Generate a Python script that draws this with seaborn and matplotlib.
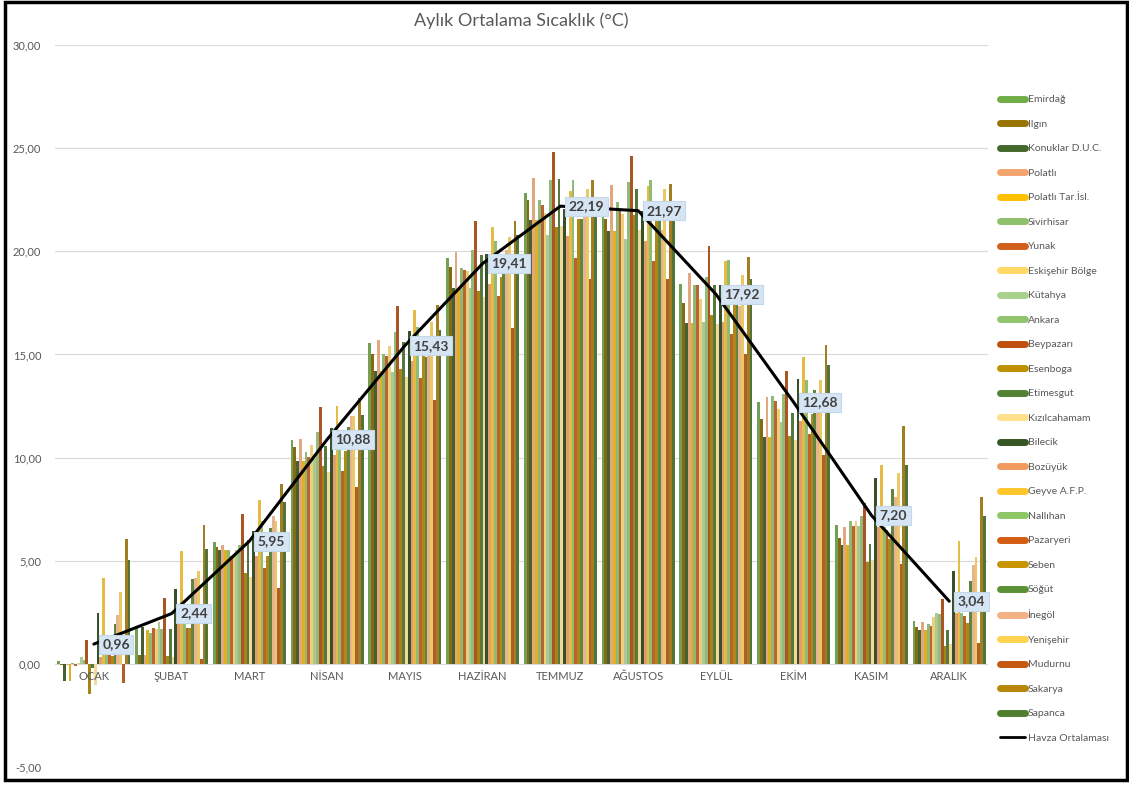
import numpy as np
import pandas as pd
import matplotlib
matplotlib.use("Agg")
import matplotlib.pyplot as plt
from matplotlib.lines import Line2D
from matplotlib.patches import Rectangle
from matplotlib.ticker import FuncFormatter
import seaborn as sns

# --- data ---
months = ["OCAK", "ŞUBAT", "MART", "NİSAN", "MAYIS", "HAZİRAN",
          "TEMMUZ", "AĞUSTOS", "EYLÜL", "EKİM", "KASIM", "ARALIK"]

stations = ["Emirdağ", "Ilgın", "Konuklar D.U.C.", "Polatlı", "Polatlı Tar.İsl.",
            "Sivirhisar", "Yunak", "Eskişehir Bölge", "Kütahya", "Ankara",
            "Beypazarı", "Esenboga", "Etimesgut", "Kızılcahamam", "Bilecik",
            "Bozüyük", "Geyve A.F.P.", "Nallıhan", "Pazaryeri", "Seben",
            "Söğüt", "İnegöl", "Yenişehir", "Mudurnu", "Sakarya", "Sapanca"]

station_colors = ["#70AD47", "#997300", "#43682B", "#F4A46E", "#FFC000",
                  "#8FC16B", "#D0601A", "#FFD966", "#A9D18E", "#92C46E",
                  "#C0500E", "#BF9000", "#548235", "#FFE08A", "#375623",
                  "#F19A5E", "#FFC72C", "#8DC766", "#D35E12", "#C89400",
                  "#5B9235", "#F4B183", "#FFD34F", "#C55A11", "#B8860B",
                  "#4F7F2E"]

# monthly values, one list per month (order = stations)
ocak = [0.15, -0.05, -0.85, -0.05, -0.85, 0.05, -0.10, 0.05, 0.35, 0.20, 1.15, -1.45, -0.20,
        -1.00, 2.45, 0.35, 4.15, 0.50, 0.45, 0.40, 1.95, 2.35, 3.50, -0.95, 6.05, 5.05]
subat = [1.85, 0.45, 1.80, 0.45, 1.65, 1.50, 1.75, 1.70, 2.05, 1.70, 3.20, 0.40, 1.70,
         0.35, 3.65, 1.95, 5.45, 2.25, 1.75, 1.75, 4.10, 4.15, 4.50, 0.25, 6.75, 5.55]
mart = [5.90, 5.65, 5.50, 5.75, 5.50, 5.50, 5.25, 5.20, 5.50, 5.78, 7.27, 4.40, 6.00,
        4.20, 6.45, 5.25, 7.95, 6.95, 4.65, 5.25, 6.60, 7.15, 6.95, 3.67, 8.70, 7.85]
nisan = [10.87, 10.53, 9.85, 10.90, 9.85, 10.26, 10.05, 10.63, 10.00, 11.26, 12.44, 9.58, 10.58,
         9.29, 11.42, 10.15, 12.52, 10.90, 9.37, 10.34, 11.50, 12.00, 12.00, 8.56, 12.88, 12.07]
mayis = [15.57, 15.03, 14.22, 15.68, 14.22, 15.03, 14.95, 15.40, 14.14, 16.08, 17.33, 14.30, 15.60,
         13.93, 16.13, 14.70, 17.14, 16.33, 13.87, 15.03, 14.90, 15.84, 16.57, 12.80, 17.41, 16.20]
haziran = [19.69, 19.24, 18.24, 19.97, 18.24, 19.20, 19.08, 19.05, 18.22, 20.08, 21.47, 18.07, 19.84,
           17.78, 19.89, 18.40, 21.18, 20.50, 17.83, 18.75, 18.88, 20.05, 20.70, 16.30, 21.47, 20.78]
temmuz = [22.83, 22.48, 21.54, 23.56, 21.54, 22.51, 22.27, 21.86, 20.78, 23.45, 24.80, 21.18, 23.50,
          21.21, 22.07, 20.73, 22.93, 23.45, 19.68, 21.59, 21.59, 21.67, 23.04, 18.67, 23.48, 21.67]
agustos = [21.67, 21.59, 20.99, 23.24, 20.99, 22.40, 22.07, 21.80, 20.61, 23.37, 24.64, 21.75, 23.00,
           21.05, 21.96, 20.50, 23.17, 23.48, 19.51, 21.50, 21.47, 21.02, 23.00, 18.67, 23.28, 21.50]
eylul = [18.40, 17.51, 16.52, 18.95, 16.52, 18.38, 18.35, 17.70, 16.57, 18.75, 20.28, 16.89, 18.35,
         16.49, 18.35, 16.57, 19.51, 19.56, 16.00, 17.43, 17.46, 17.33, 18.83, 15.03, 19.72, 18.67]
ekim = [12.72, 11.88, 11.02, 12.93, 11.02, 12.99, 12.73, 12.36, 11.72, 13.06, 14.22, 11.07, 12.15,
        10.83, 13.82, 11.76, 14.90, 13.74, 11.15, 12.09, 13.30, 12.20, 13.74, 10.15, 15.47, 14.47]
kasim = [6.73, 6.10, 5.78, 6.65, 5.78, 6.91, 6.70, 6.91, 6.70, 7.18, 7.78, 4.92, 5.81,
         5.03, 9.01, 6.62, 9.64, 6.62, 6.49, 6.05, 8.48, 8.07, 9.26, 4.84, 11.55, 9.64]
aralik = [2.09, 1.80, 1.63, 2.04, 1.63, 1.93, 1.84, 2.28, 2.49, 2.44, 3.14, 0.87, 1.65,
          0.95, 4.51, 2.49, 5.97, 2.49, 2.33, 1.97, 4.00, 4.79, 5.16, 1.00, 8.11, 7.15]

havza_ortalamasi = [0.96, 2.44, 5.95, 10.88, 15.43, 19.41, 22.19, 21.97, 17.92, 12.68, 7.20, 3.04]

monthly = [ocak, subat, mart, nisan, mayis, haziran, temmuz, agustos, eylul, ekim, kasim, aralik]
rows = []
for m, vals in zip(months, monthly):
    for s, v in zip(stations, vals):
        rows.append({"Ay": m, "İstasyon": s, "Sıcaklık": v})
df = pd.DataFrame(rows)

# --- style ---
sns.set_style("white")
plt.rcParams["font.family"] = ["Lato", "DejaVu Sans"]
grey = "#595959"

fig = plt.figure(figsize=(11.29, 7.85), dpi=100)
ax = fig.add_axes([0.0487, 0.0229, 0.8265, 0.9197])

sns.barplot(data=df, x="Ay", y="Sıcaklık", hue="İstasyon", order=months,
            hue_order=stations, palette=station_colors, width=0.94, gap=0,
            linewidth=0, legend=False, ax=ax)

x = np.arange(len(months))
ax.plot(x, havza_ortalamasi, color="black", lw=2.2, zorder=5)
for xi, v in zip(x, havza_ortalamasi):
    ax.annotate(f"{v:.2f}".replace(".", ","), (xi, v), xytext=(6, 0),
                textcoords="offset points", ha="left", va="center",
                fontsize=10, fontweight="bold", color="#404040", zorder=6,
                bbox=dict(boxstyle="square,pad=0.25", fc="#D6E5F4", ec="#C5D7EB", lw=0.8))

# axes formatting
ax.set_ylim(-5, 30)
ax.set_xlim(-0.5, len(months) - 0.5)
ax.set_yticks(np.arange(-5, 31, 5))
ax.yaxis.set_major_formatter(FuncFormatter(lambda v, p: f"{v:.2f}".replace(".", ",")))
ax.tick_params(axis="y", labelsize=8, colors=grey, length=0, pad=10)
ax.grid(axis="y", color="#D9D9D9", lw=0.8)
ax.set_axisbelow(True)
ax.set_xticks([])
ax.set_xlabel("")
ax.set_ylabel("")
for sp in ax.spines.values():
    sp.set_visible(False)

for xi, m in zip(x, months):
    ax.text(xi, -0.35, m, ha="center", va="top", fontsize=8, color=grey)

ax.set_title("Aylık Ortalama Sıcaklık (°C)", fontsize=13, color=grey, pad=14)

# legend
handles = [Line2D([0], [0], color=c, lw=5) for c in station_colors]
handles.append(Line2D([0], [0], color="black", lw=2))
labels = stations + ["Havza Ortalaması"]
fig.legend(handles, labels, loc="upper left", bbox_to_anchor=(0.877, 0.891),
           frameon=False, fontsize=7.5, labelcolor=grey, handlelength=2.4,
           labelspacing=1.46, handletextpad=0.3)

# outer frame
fig.add_artist(Rectangle((0.004, 0.006), 0.994, 0.992, transform=fig.transFigure,
                         fill=False, ec="black", lw=2.5))

fig.savefig("out.png", dpi=100)
